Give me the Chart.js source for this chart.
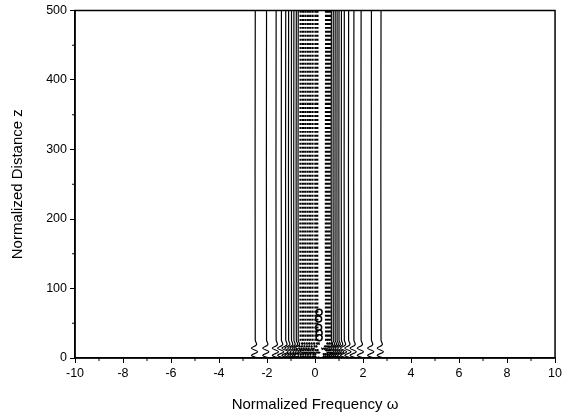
<!DOCTYPE html>
<html>
<head>
<meta charset="utf-8">
<script src="https://cdn.jsdelivr.net/npm/chart.js@4"></script>
<style>
  html, body { margin: 0; padding: 0; background: #fff; }
  #wrap { width: 565px; height: 416px; position: relative; }
</style>
</head>
<body>
<div id="wrap"><canvas id="cv"></canvas></div>
<script>
// contour positions (normalized frequency)
const solidX  = [-2.49, -2.02, -1.62, -1.40, -1.22, -1.10, -0.98, -0.88, -0.78, -0.70,
                 0.68, 0.76, 0.84, 0.92, 1.00, 1.10, 1.22, 1.40, 1.62, 1.92, 2.35, 2.75];
const dottedX = [-0.60, -0.50, -0.40, -0.30, -0.20, -0.10, 0.02, 0.10, 0.46, 0.54, 0.62];
// small wiggle of every contour near z = 0
const wiggleZ  = [0, 4, 9, 14, 19, 26, 500];
const wiggleDx = [0.10, -0.16, 0.10, -0.16, 0.05, 0, 0];
// small closed contours near the centre
const loopX = [0.17, 0.15, 0.15, 0.17, 0.17];
const loopZ = [66, 56, 44, 36, 29];
const xTicks = [-10, -8, -6, -4, -2, 0, 2, 4, 6, 8, 10];
const yTicks = [0, 100, 200, 300, 400, 500];

function contour(x0) {
  return wiggleZ.map((z, i) => ({ x: x0 + wiggleDx[i], y: z }));
}

const datasets = [];
solidX.forEach(x0 => datasets.push({
  data: contour(x0), showLine: true, borderColor: '#000', borderWidth: 1.2,
  pointRadius: 0, tension: 0.4
}));
dottedX.forEach(x0 => datasets.push({
  data: contour(x0), showLine: true, borderColor: '#000', borderWidth: 2.2,
  borderDash: [2, 2], pointRadius: 0, tension: 0.4
}));
datasets.push({
  data: loopX.map((x, i) => ({ x: x, y: loopZ[i] })), showLine: false,
  pointRadius: 3, pointBorderColor: '#000', pointBackgroundColor: '#fff', pointBorderWidth: 1.5
});

// frame + minor ticks, placed via the chart's own scales
const framePlugin = {
  id: 'frame',
  afterDraw(chart) {
    const { ctx, chartArea: a, scales } = chart;
    ctx.save();
    ctx.strokeStyle = '#000';
    ctx.lineWidth = 1.5;
    ctx.strokeRect(a.left, a.top, a.right - a.left, a.bottom - a.top);
    ctx.lineWidth = 1;
    ctx.beginPath();
    for (let v = -9; v <= 9; v += 2) {
      const px = scales.x.getPixelForValue(v);
      ctx.moveTo(px, a.bottom); ctx.lineTo(px, a.bottom + 3);
    }
    for (let v = 50; v < 500; v += 100) {
      const py = scales.y.getPixelForValue(v);
      ctx.moveTo(a.left, py); ctx.lineTo(a.left - 3, py);
    }
    ctx.stroke();
    ctx.restore();
  }
};

const font = { family: '"Liberation Sans", Arial, sans-serif', size: 12.5 };

new Chart(document.getElementById('cv'), {
  type: 'scatter',
  data: { datasets },
  options: {
    responsive: true, maintainAspectRatio: false, animation: false,
    layout: { padding: { top: 6, right: 6, left: 0, bottom: 0 } },
    plugins: { legend: { display: false }, tooltip: { enabled: false } },
    scales: {
      x: {
        type: 'linear', min: -10, max: 10,
        afterBuildTicks: s => { s.ticks = xTicks.map(v => ({ value: v })); },
        ticks: { color: '#000', font, padding: 3, maxRotation: 0 },
        grid: { drawOnChartArea: false, tickLength: 5, tickColor: '#000', tickWidth: 1 },
        border: { color: '#000', width: 1.5 },
        title: { display: true, text: 'Normalized Frequency ω', color: '#000',
                 font: { family: font.family, size: 15 }, padding: { top: 10, bottom: 2 } },
        afterFit: s => { s.height = 58; }
      },
      y: {
        type: 'linear', min: 0, max: 500,
        afterBuildTicks: s => { s.ticks = yTicks.map(v => ({ value: v })); },
        ticks: { color: '#000', font, padding: 3 },
        grid: { drawOnChartArea: false, tickLength: 5, tickColor: '#000', tickWidth: 1 },
        border: { color: '#000', width: 1.5 },
        title: { display: true, text: 'Normalized Distance z', color: '#000',
                 font: { family: font.family, size: 15 }, padding: { top: 9, bottom: 0 } },
        afterFit: s => { s.width = 75; }
      }
    }
  },
  plugins: [framePlugin]
});
</script>
</body>
</html>
